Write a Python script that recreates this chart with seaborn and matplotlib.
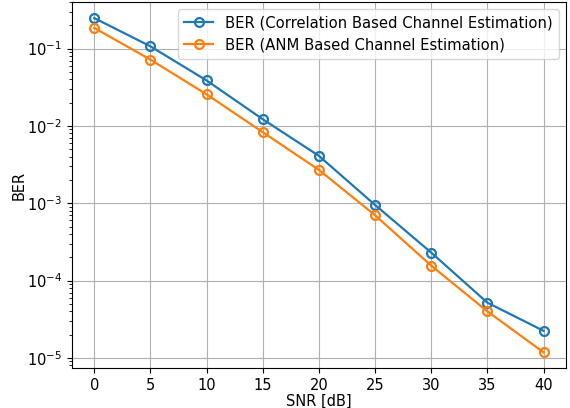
import matplotlib
matplotlib.use("Agg")
import matplotlib.pyplot as plt
import seaborn as sns
import pandas as pd

snr_db = [0, 5, 10, 15, 20, 25, 30, 35, 40]
ber_correlation = [0.248, 0.107, 0.0387, 0.0122, 0.0041, 9.5e-4, 2.30e-4, 5.18e-5, 2.24e-5]
ber_anm = [0.185, 0.072, 0.0256, 0.0083, 0.0027, 7.0e-4, 1.56e-4, 4.0e-5, 1.18e-5]
labels = ["BER (Correlation Based Channel Estimation)", "BER (ANM Based Channel Estimation)"]
colors = ["#1f77b4", "#ff7f0e"]

df = pd.DataFrame({
    "SNR": snr_db * 2,
    "BER": ber_correlation + ber_anm,
    "method": [labels[0]] * len(snr_db) + [labels[1]] * len(snr_db),
})

plt.rcParams["font.size"] = 10.5
fig, ax = plt.subplots(figsize=(5.7, 4.08), dpi=100)
for lab, col in zip(labels, colors):
    sub = df[df["method"] == lab]
    sns.lineplot(data=sub, x="SNR", y="BER", ax=ax, color=col, label=lab,
                 marker="o", markersize=6.4, markerfacecolor="none",
                 markeredgecolor=col, markeredgewidth=1.6, linewidth=1.6)

ax.set_yscale("log")
ax.set_xticks(snr_db)
ax.set_ylim(7.4e-6, 0.40)
ax.set_xlim(-2, 42)
ax.grid(True, which="major", color="#b0b0b0", linewidth=0.8)
ax.set_xlabel("SNR [dB]", labelpad=0.5)
ax.set_ylabel("BER", labelpad=0.5)
ax.legend(loc="upper right", fontsize=10.6)
fig.subplots_adjust(left=0.126, right=0.993, top=0.995, bottom=0.098)
fig.savefig("out.png", dpi=100)
